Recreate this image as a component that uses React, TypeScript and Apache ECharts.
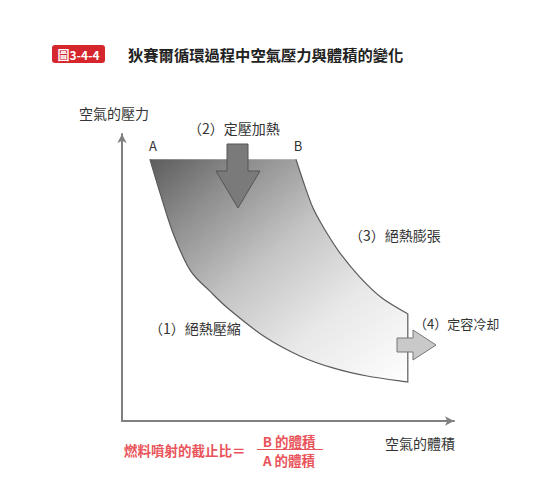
import React, { useEffect, useRef } from "react";
import * as echarts from "echarts";

// Outline of the Diesel cycle, in (volume, pressure) units.
// 0: A, 1: B, 2-7: adiabatic expansion curve, 8: C, 9: D, 10-18: adiabatic compression curve, 19: A
const cycleVolume = [9.3, 58, 60.3, 63.7, 67.7, 72.7, 79.3, 86.7, 95.3, 95.3, 81.7, 70.3, 59.3, 47.7, 36, 29.3, 22.7, 17, 12.7, 9.3];
const cyclePressure = [87.3, 87.3, 80.3, 71, 63.7, 56, 48, 41, 35.7, 13, 15, 17.7, 21.7, 28, 37, 43.3, 50.3, 62.7, 76, 87.3];

const pointLabels = ["A", "B"];
const stageLabels = ["（1）絕熱壓縮", "（2）定壓加熱", "（3）絕熱膨張", "（4）定容冷却"];
const axisNames = ["空氣的體積", "空氣的壓力"];
const figureTag = "圖3-4-4";
const figureTitle = "狄賽爾循環過程中空氣壓力與體積的變化";
const ratioLabel = "燃料噴射的截止比＝";
const ratioNumerator = "B 的體積";
const ratioDenominator = "A 的體積";

const FONT = '"Noto Sans CJK TC", "Noto Sans", sans-serif';

type Pt = number[];

// smooth (Catmull-Rom style) bezier segments through points, like a smoothed line series
function smoothSegments(pts: Pt[]): string {
  let d = "";
  for (let i = 0; i < pts.length - 1; i++) {
    const p0 = pts[Math.max(0, i - 1)];
    const p1 = pts[i];
    const p2 = pts[i + 1];
    const p3 = pts[Math.min(pts.length - 1, i + 2)];
    const c1x = p1[0] + (p2[0] - p0[0]) / 6;
    const c1y = p1[1] + (p2[1] - p0[1]) / 6;
    const c2x = p2[0] - (p3[0] - p1[0]) / 6;
    const c2y = p2[1] - (p3[1] - p1[1]) / 6;
    d += ` C ${c1x} ${c1y} ${c2x} ${c2y} ${p2[0]} ${p2[1]}`;
  }
  return d;
}

export default function App() {
  const ref = useRef<HTMLDivElement>(null);

  useEffect(() => {
    if (!ref.current) return;
    const chart = echarts.init(ref.current, undefined, { renderer: "svg" });

    const txt = (
      text: string,
      x: number,
      y: number,
      opts: { size?: number; color?: string; weight?: string; align?: string } = {}
    ) => ({
      type: "text",
      x,
      y,
      z: 100,
      style: {
        text,
        fill: opts.color ?? "#333",
        fontSize: opts.size ?? 14,
        fontFamily: FONT,
        fontWeight: opts.weight ?? "normal",
        align: opts.align ?? "center",
        textAlign: opts.align ?? "center",
        verticalAlign: "middle",
        textVerticalAlign: "middle",
      },
    });

    const option: any = {
      animation: false,
      backgroundColor: "#ffffff",
      grid: { left: 122, top: 134, right: 82, bottom: 83, containLabel: false },
      xAxis: {
        type: "value",
        min: 0,
        max: 110.7,
        splitLine: { show: false },
        axisTick: { show: false },
        axisLabel: { show: false },
        axisLine: {
          show: true,
          onZero: false,
          symbol: ["none", "arrow"],
          symbolSize: [7, 9],
          lineStyle: { color: "#808080", width: 2 },
        },
      },
      yAxis: {
        type: "value",
        min: 0,
        max: 95.7,
        splitLine: { show: false },
        axisTick: { show: false },
        axisLabel: { show: false },
        axisLine: {
          show: true,
          onZero: false,
          symbol: ["none", "arrow"],
          symbolSize: [7, 9],
          lineStyle: { color: "#808080", width: 2 },
        },
      },
      series: [
        {
          type: "custom",
          coordinateSystem: "cartesian2d",
          data: [[0, 0]],
          renderItem: (_params: any, api: any) => {
            const pts: Pt[] = cycleVolume.map((v, i) => api.coord([v, cyclePressure[i]]));
            const A = pts[0];
            const B = pts[1];
            const D = pts[9];
            const upper = pts.slice(1, 9);
            const lower = pts.slice(9);
            const outline =
              `M ${B[0]} ${B[1]}` + smoothSegments(upper) + ` L ${D[0]} ${D[1]}` + smoothSegments(lower);
            const fillPath = `M ${A[0]} ${A[1]} L ${B[0]} ${B[1]}` + smoothSegments(upper) +
              ` L ${D[0]} ${D[1]}` + smoothSegments(lower) + " Z";
            return {
              type: "group",
              children: [
                {
                  type: "path",
                  shape: { pathData: fillPath },
                  style: {
                    fill: new echarts.graphic.LinearGradient(0, 0, 1, 1, [
                      { offset: 0, color: "#5c5c5c" },
                      { offset: 0.2, color: "#8e8e8e" },
                      { offset: 0.45, color: "#c4c4c4" },
                      { offset: 0.7, color: "#e8e8e8" },
                      { offset: 1, color: "#fefefe" },
                    ]),
                    stroke: null,
                  },
                },
                {
                  type: "path",
                  shape: { pathData: outline },
                  style: { stroke: "#5a5a5a", lineWidth: 1.2, fill: null },
                },
              ],
            };
          },
        },
      ],
      graphic: [
        // figure tag and title
        {
          type: "rect",
          z: 100,
          shape: { x: 52, y: 45, width: 53, height: 18, r: 3 },
          style: { fill: "#d5262d" },
        },
        txt(figureTag, 78.5, 54.5, { size: 12, color: "#ffffff", weight: "bold" }),
        txt(figureTitle, 128, 54, { size: 15.3, color: "#222", weight: "bold", align: "left" }),
        // process arrows
        {
          type: "polygon",
          z: 100,
          shape: {
            points: [
              [227, 144],
              [248, 144],
              [248, 171],
              [260, 171],
              [238, 208],
              [216, 171],
              [227, 171],
            ],
          },
          style: { fill: "#7a7a7a", stroke: "#555", lineWidth: 1 },
        },
        {
          type: "polygon",
          z: 100,
          shape: {
            points: [
              [397, 338],
              [413, 338],
              [413, 330],
              [436, 345],
              [413, 360],
              [413, 352],
              [397, 352],
            ],
          },
          style: { fill: "#c9c9c9", stroke: "#777", lineWidth: 1 },
        },
        // labels
        txt(axisNames[1], 114, 113, { size: 14 }),
        txt(axisNames[0], 420, 443, { size: 14 }),
        txt(pointLabels[0], 153, 145, { size: 13 }),
        txt(pointLabels[1], 298, 145, { size: 13 }),
        txt(stageLabels[1], 188, 128, { size: 14, align: "left" }),
        txt(stageLabels[2], 349, 235, { size: 14, align: "left" }),
        txt(stageLabels[3], 414, 323, { size: 13, align: "left" }),
        txt(stageLabels[0], 149, 328, { size: 14, align: "left" }),
        // cut-off ratio formula
        txt(ratioLabel, 124, 450, { size: 13.5, color: "#e9545a", weight: "bold", align: "left" }),
        txt(ratioNumerator, 289, 441, { size: 13.5, color: "#e9545a", weight: "bold" }),
        {
          type: "line",
          z: 100,
          shape: { x1: 257, y1: 449.5, x2: 323, y2: 449.5 },
          style: { stroke: "#e9545a", lineWidth: 1 },
        },
        txt(ratioDenominator, 289, 460, { size: 13.5, color: "#e9545a", weight: "bold" }),
      ],
    };

    chart.setOption(option);
    return () => chart.dispose();
  }, []);

  return (
    <div
      ref={ref}
      style={{ position: "fixed", left: 0, top: 0, width: 536, height: 504, background: "#fff" }}
    />
  );
}
